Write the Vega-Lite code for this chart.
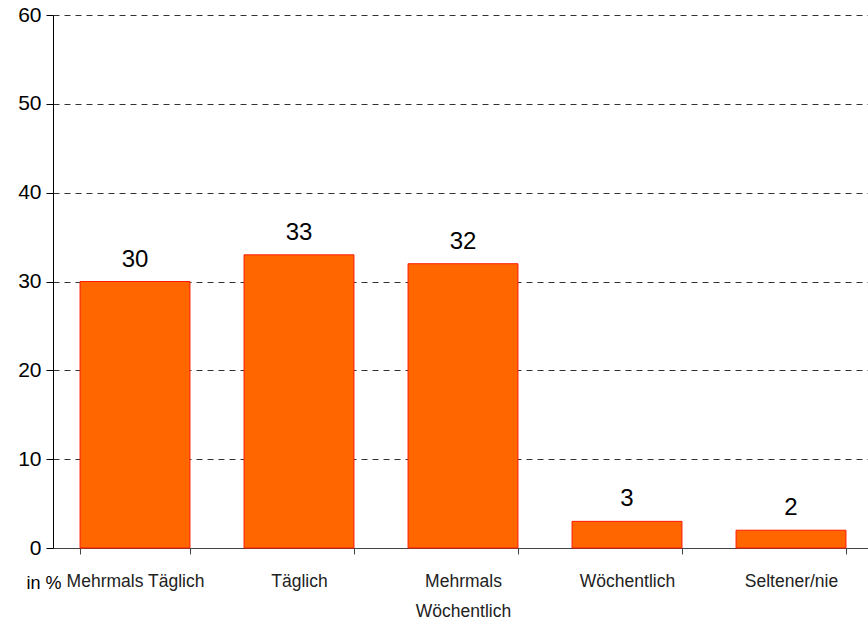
{
  "$schema": "https://vega.github.io/schema/vega-lite/v6.json",
  "width": 820,
  "height": 533,
  "autosize": {"type": "none"},
  "padding": {"left": 53, "top": 15, "right": 0, "bottom": 78},
  "background": "white",
  "config": {"view": {"stroke": null}, "font": "Liberation Sans"},
  "data": {"values": [
    {"cat": "Mehrmals Täglich", "value": 30},
    {"cat": "Täglich", "value": 33},
    {"cat": "Mehrmals Wöchentlich", "value": 32},
    {"cat": "Wöchentlich", "value": 3},
    {"cat": "Seltener/nie", "value": 2}
  ]},
  "encoding": {
    "x": {"field": "cat", "type": "nominal", "sort": null,
      "scale": {"paddingInner": 0.33, "paddingOuter": 0.165},
      "axis": {"title": null, "labelAngle": 0, "labelFontSize": 17.5, "labelColor": "#222", "labelFont": "Liberation Sans",
        "labelExpr": "datum.label == 'Mehrmals Wöchentlich' ? ['Mehrmals', 'Wöchentlich'] : datum.label",
        "labelLineHeight": 30, "labelPadding": 18, "tickBand": "extent", "tickSize": 6, "tickColor": "#444", "domainColor": "#444", "labelBaseline": "top"}},
    "y": {"field": "value", "type": "quantitative",
      "scale": {"domain": [0, 60]},
      "axis": {"values": [0,10,20,30,40,50,60], "labelFontSize": 21, "labelColor": "#000", "labelPadding": 5, "tickSize": 7, "tickColor": "#000", "domainColor": "#000",
        "grid": true, "gridColor": "#333", "gridDash": [6, 5], "gridWidth": 1,
        "title": "in %", "titleAngle": 0, "titleX": -27, "titleY": 573, "titleFontSize": 18, "titleFontWeight": "normal", "titleAlign": "left", "titleBaseline": "alphabetic", "titleColor": "#000"}}
  },
  "layer": [
    {"mark": {"type": "bar", "color": "#FF6600", "stroke": "#FF1A00", "strokeWidth": 1}},
    {"mark": {"type": "text", "baseline": "bottom", "dy": -10, "fontSize": 24, "color": "#000"},
     "encoding": {"text": {"field": "value", "type": "quantitative"}}}
  ]
}
